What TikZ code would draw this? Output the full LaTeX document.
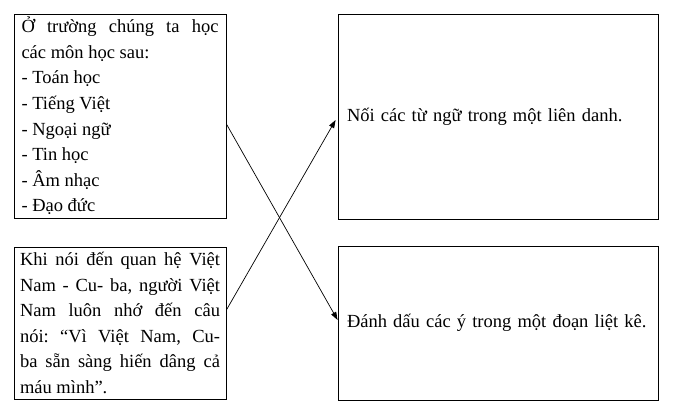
\documentclass[tikz,border=0pt]{standalone}
\usepackage{fontspec}
\setmainfont{Liberation Serif}
\usetikzlibrary{arrows.meta}
\frenchspacing
\begin{document}
\begin{tikzpicture}[x=1pt,y=1pt,
  box/.style={draw,line width=0.8pt,inner ysep=0pt,font=\fontsize{18.5}{25.6}\selectfont},
  conn/.style={line width=0.7pt,-{Triangle[length=8pt,width=5.5pt]}}]
\useasboundingbox (0,0) rectangle (680,411);
\node[box,text width=197,inner xsep=7.5,minimum height=204,align=justify] (A) at (120,295)
 {\hyphenpenalty=10000 Ở trường chúng ta học\linebreak các môn học sau:\\- Toán học\\- Tiếng Việt\\- Ngoại ngữ\\- Tin học\\- Âm nhạc\\- Đạo đức};
\node[box,text width=200,inner xsep=6,minimum height=152,align=justify] (B) at (120,88)
 {\hyphenpenalty=10000 Khi nói đến quan hệ Việt\linebreak Nam - Cu- ba, người Việt\linebreak Nam luôn nhớ đến câu\linebreak nói: “Vì Việt Nam, Cu-\linebreak ba sẵn sàng hiến dâng cả\linebreak máu mình”.};
\node[box,text width=302,inner xsep=9,minimum height=205,align=left] (C) at (498,294.5)
 {Nối các từ ngữ trong một liên danh.};
\node[box,text width=302,inner xsep=9,minimum height=154,align=left] (D) at (498,88)
 {Đánh dấu các ý trong một đoạn liệt kê.};
\draw[conn] ([yshift=-8]A.east) -- ([yshift=3]D.west);
\draw[conn] ([yshift=13]B.east) -- ([xshift=-2,yshift=-3.5]C.west);
\end{tikzpicture}
\end{document}
